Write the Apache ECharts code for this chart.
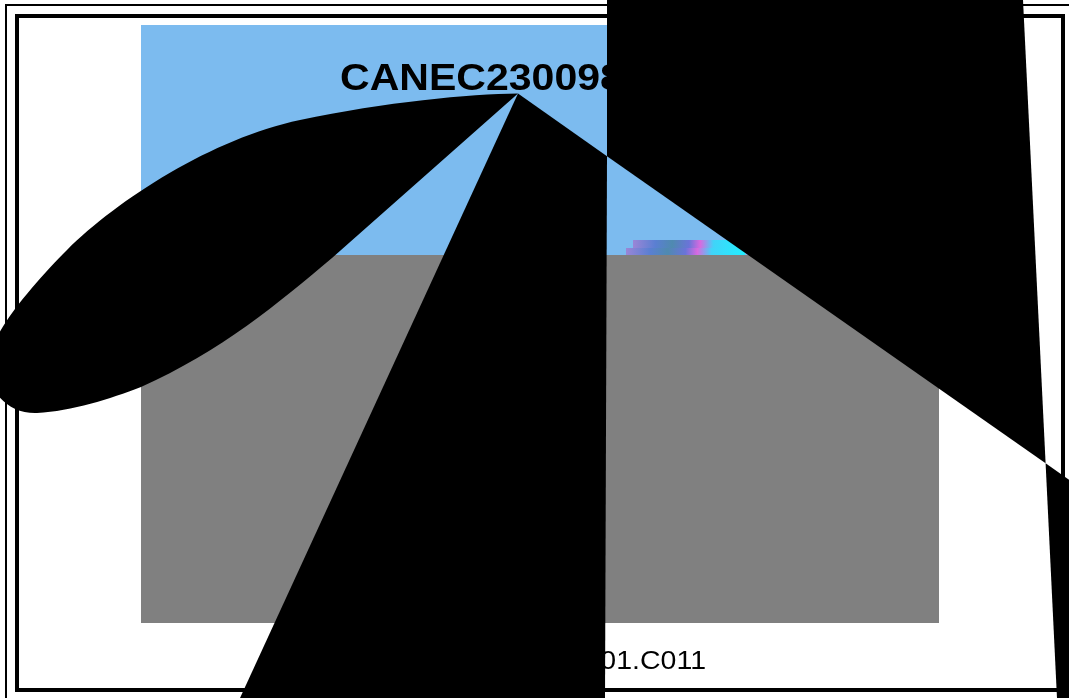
<!DOCTYPE html>
<html><head><meta charset="utf-8">
<script src="https://cdn.jsdelivr.net/npm/echarts@6/dist/echarts.min.js"></script>
<style>html,body{margin:0;padding:0;background:#fff;overflow:hidden}#c{width:1069px;height:698px}</style>
</head><body><div id="c"></div>
<script>
// ---- geometry (page coordinates, x: 0..1069, y: 0..698 downwards) ----
const panelRects = [[141, 25, 939, 255], [141, 255, 939, 623]];
const panelColors = ['#7cbbef', '#808080'];
const noiseRects = [[633, 240, 745, 248], [626, 248, 745, 255]];
const borderRects = [[6, 5, 1071, 701], [17, 16, 1063, 690]];
const borderWidths = [2, 4];
const titleText = 'CANEC2300987';
const titleAnchor = [340, 80];
const footerText = 'CANEC2300987.001.C011';
const footerAnchor = [706, 662];
const blackPolygons = [
  [[607, 0], [1023, 0], [1045.6, 463.3], [607, 156.3]],
  [[518, 93.5], [607, 156.3], [605, 698], [240, 698]],
  [[1045.6, 463.3], [1069, 479.7], [1069, 698], [1057, 698]]
];
const lobePath = [
  ['M', 518, 93.5],
  ['C', 470, 94, 385, 102, 300, 120],
  ['C', 213, 138, 117, 200, 67, 250],
  ['C', 37, 280, -12, 335, -12, 365],
  ['C', -12, 392, 8, 414, 37, 413],
  ['C', 72, 411, 110, 399, 141, 387],
  ['C', 220, 352, 280, 302, 332, 258],
  ['L', 518, 93.5],
  ['Z']
];

const chart = echarts.init(document.getElementById('c'), null, {renderer: 'canvas'});

function rectEl(api, r) {
  const a = api.coord([r[0], r[1]]), b = api.coord([r[2], r[3]]);
  return {x: Math.min(a[0], b[0]), y: Math.min(a[1], b[1]), width: Math.abs(b[0] - a[0]), height: Math.abs(b[1] - a[1])};
}
function idx(n) { return Array.from({length: n}, (_, i) => [i]); }

const noiseFill = {
  type: 'linear', x: 0, y: 0, x2: 1, y2: 0,
  colorStops: [
    {offset: 0, color: '#9a86d6'}, {offset: 0.2, color: '#5a7fd2'}, {offset: 0.35, color: '#4f8ab0'},
    {offset: 0.5, color: '#6a74d8'}, {offset: 0.6, color: '#d86ae0'}, {offset: 0.72, color: '#40d4f8'},
    {offset: 1, color: '#22eeff'}
  ]
};

chart.setOption({
  animation: false,
  grid: {left: 0, right: 0, top: 0, bottom: 0},
  xAxis: {type: 'value', min: 0, max: 1069, show: false},
  yAxis: {type: 'value', min: 0, max: 698, inverse: true, show: false},
  series: [
    {
      type: 'custom', z: 1, data: idx(panelRects.length),
      renderItem: (p, api) => ({type: 'rect', shape: rectEl(api, panelRects[p.dataIndex]), style: {fill: panelColors[p.dataIndex]}})
    },
    {
      type: 'custom', z: 2, data: idx(noiseRects.length),
      renderItem: (p, api) => ({type: 'rect', shape: rectEl(api, noiseRects[p.dataIndex]), style: {fill: noiseFill}})
    },
    {
      type: 'custom', z: 3, data: idx(borderRects.length),
      renderItem: (p, api) => ({type: 'rect', shape: rectEl(api, borderRects[p.dataIndex]),
        style: {fill: 'none', stroke: '#000', lineWidth: borderWidths[p.dataIndex]}})
    },
    {
      type: 'custom', z: 4, data: [[0], [1]],
      renderItem: (p, api) => {
        if (p.dataIndex === 0) {
          const c = api.coord(titleAnchor);
          return {type: 'text', x: c[0], y: c[1], scaleX: 1.14,
            style: {text: titleText, fill: '#000', font: 'bold 36px "Liberation Sans", Arial, sans-serif',
              align: 'left', verticalAlign: 'middle', textAlign: 'left', textVerticalAlign: 'middle'}};
        }
        const c = api.coord(footerAnchor);
        return {type: 'text', x: c[0], y: c[1], scaleX: 1.14,
          style: {text: footerText, fill: '#000', font: '25px "Liberation Sans", Arial, sans-serif',
            align: 'right', verticalAlign: 'middle', textAlign: 'right', textVerticalAlign: 'middle'}};
      }
    },
    {
      type: 'custom', z: 5, data: idx(blackPolygons.length + 1),
      renderItem: (p, api) => {
        if (p.dataIndex < blackPolygons.length) {
          return {type: 'polygon', shape: {points: blackPolygons[p.dataIndex].map(pt => api.coord(pt))}, style: {fill: '#000'}};
        }
        let d = '';
        lobePath.forEach(cmd => {
          d += cmd[0];
          for (let i = 1; i < cmd.length; i += 2) {
            const c = api.coord([cmd[i], cmd[i + 1]]);
            d += ' ' + c[0].toFixed(2) + ' ' + c[1].toFixed(2);
          }
          d += ' ';
        });
        return {type: 'path', shape: {pathData: d}, style: {fill: '#000'}};
      }
    }
  ]
});
</script></body></html>
